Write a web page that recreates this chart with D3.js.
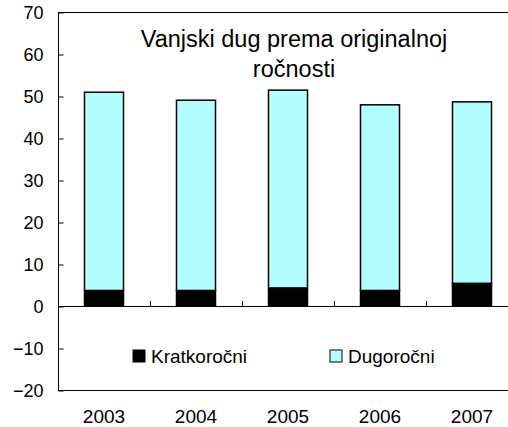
<!DOCTYPE html>
<html>
<head>
<meta charset="utf-8">
<script src="https://cdn.jsdelivr.net/npm/d3@7"></script>
<style>
  body { margin: 0; background: #fff; overflow: hidden; }
  text { font-family: "Liberation Sans", Arial, sans-serif; fill: #000; }
</style>
</head>
<body>
<script>
var years = ["2003", "2004", "2005", "2006", "2007"];
var kratkorocni = [3.7, 3.7, 4.3, 3.7, 5.4];
var dugorocni = [47.2, 45.3, 47.1, 44.2, 43.2];
var yTicks = [-20, -10, 0, 10, 20, 30, 40, 50, 60, 70];
var seriesNames = ["Kratkoročni", "Dugoročni"];
var seriesColors = ["#000000", "#b3ffff"];
var titleLines = ["Vanjski dug prema originalnoj", "ročnosti"];

var width = 508;
var height = 427;

var margin = { top: 12, right: -10, bottom: 37, left: 58 };

var svg = d3.select("body")
            .append("svg")
            .attr("width", width)
            .attr("height", height);

var x = d3.scaleBand()
          .domain(years)
          .range([margin.left, width - margin.right])
          .paddingInner(0.576)
          .paddingOuter(0.288);

var y = d3.scaleLinear()
          .domain([-20, 70])
          .range([height - margin.bottom, margin.top]);

// stacked data
var stackData = years.map(function(yr, i) {
  return { year: yr, Kratkoročni: kratkorocni[i], "Dugoročni": dugorocni[i] };
});
var stacked = d3.stack().keys(seriesNames)(stackData);

// plot frame
svg.append("rect")
   .attr("x", margin.left + 0.5)
   .attr("y", y(70) + 0.5)
   .attr("width", width - margin.right - margin.left)
   .attr("height", y(-20) - y(70))
   .attr("fill", "none")
   .attr("stroke", "#000")
   .attr("stroke-width", 1);

// bars
svg.selectAll(".series")
   .data(stacked)
   .enter()
   .append("g")
   .attr("fill", function(d, i) { return seriesColors[i]; })
   .selectAll("rect")
   .data(function(d) { return d; })
   .enter()
   .append("rect")
   .attr("x", function(d) { return x(d.data.year); })
   .attr("y", function(d) { return y(d[1]); })
   .attr("width", x.bandwidth())
   .attr("height", function(d) { return y(d[0]) - y(d[1]); })
   .attr("stroke", "#000")
   .attr("stroke-width", 1.5);

// y axis, ticks inside
var yAxis = svg.append("g")
   .attr("transform", `translate(${margin.left + 0.5}, 0.5)`)
   .call(d3.axisRight(y).tickValues(yTicks).tickSize(5).tickFormat(d3.format("d")));
yAxis.select(".domain").remove();
yAxis.selectAll("line").attr("stroke", "#000");
yAxis.selectAll("text")
     .attr("x", -15)
     .attr("dy", "0.36em")
     .attr("text-anchor", "end")
     .style("font-size", "18px")
     .attr("font-family", null);

// zero line with category separators
var step = x.step();
var sepValues = d3.range(1, years.length);
svg.append("line")
   .attr("x1", margin.left)
   .attr("x2", width)
   .attr("y1", Math.round(y(0)) + 0.5)
   .attr("y2", Math.round(y(0)) + 0.5)
   .attr("stroke", "#000");
svg.selectAll(".sep")
   .data(sepValues)
   .enter()
   .append("line")
   .attr("x1", function(d) { return margin.left + d * step + 0.5; })
   .attr("x2", function(d) { return margin.left + d * step + 0.5; })
   .attr("y1", Math.round(y(0)))
   .attr("y2", Math.round(y(0)) - 5)
   .attr("stroke", "#000");

// x labels under the frame
svg.selectAll(".xlab")
   .data(years)
   .enter()
   .append("text")
   .attr("x", function(d) { return x(d) + x.bandwidth() / 2; })
   .attr("y", 423)
   .attr("text-anchor", "middle")
   .style("font-size", "19px")
   .text(function(d) { return d; });

// title inside the plot
svg.selectAll(".title")
   .data(titleLines)
   .enter()
   .append("text")
   .attr("x", 294)
   .attr("y", function(d, i) { return 46.5 + i * 30; })
   .attr("text-anchor", "middle")
   .style("font-size", "23.5px")
   .text(function(d) { return d; });

// legend
var legendX = [133, 330];
var legend = svg.selectAll(".legend")
   .data(seriesNames)
   .enter()
   .append("g")
   .attr("transform", function(d, i) { return `translate(${legendX[i]}, 350)`; });
legend.append("rect")
      .attr("width", 12)
      .attr("height", 12)
      .attr("fill", function(d, i) { return seriesColors[i]; })
      .attr("stroke", "#000")
      .attr("stroke-width", 1);
legend.append("text")
      .attr("x", 18)
      .attr("y", 13)
      .style("font-size", "19px")
      .text(function(d) { return d; });
</script>
</body>
</html>
